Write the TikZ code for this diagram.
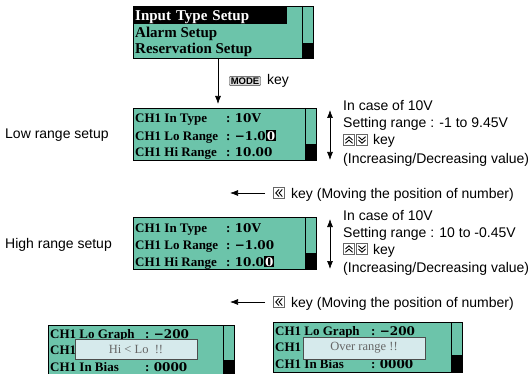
\documentclass[tikz,border=0pt]{standalone}
\usepackage{fontspec}
\setmainfont{Liberation Sans}
\newfontfamily\lcdfont{Liberation Serif}
\newfontfamily\lcdnum{DejaVu Serif}
\usetikzlibrary{positioning,calc,arrows.meta}
\definecolor{lcdgreen}{RGB}{108,196,170}
\definecolor{popfill}{RGB}{214,234,236}
\newcommand{\lcdhl}[1]{{\fboxsep=1pt\colorbox{black}{\textcolor{white}{#1}}}}
\newcommand{\lcdrow}[3]{\makebox[#1][l]{#2}: {\lcdnum\bfseries\fontsize{12}{12}\selectfont#3}}

\begin{document}
\begin{tikzpicture}[x=1pt,y=-1pt,
		lcd/.style={draw=black,line width=1.2pt,fill=lcdgreen,anchor=north west,inner sep=0pt},
		lcdtxt/.style={anchor=base west,inner sep=0pt,font=\lcdfont\bfseries\fontsize{13}{13}\selectfont},
		menutxt/.style={lcdtxt,font=\lcdfont\bfseries\fontsize{15}{15}\selectfont},
		popup/.style={draw=black!70,line width=0.5pt,fill=popfill,text=black!60,inner sep=0pt,font=\lcdfont\fontsize{12.5}{12.5}\selectfont},
		lbl/.style={anchor=base west,inner sep=0pt,font=\fontsize{14}{14}\selectfont},
		arr/.style={line width=0.7pt,-{Latex[length=8pt,width=6pt]}},
		darr/.style={line width=0.7pt,{Latex[length=8pt,width=6pt]}-{Latex[length=8pt,width=6pt]}},
		keycap/.style={draw=black!75,fill=black!15,rounded corners=1pt,inner xsep=1.5pt,inner ysep=1.2pt,font=\bfseries\fontsize{9.5}{9.5}\selectfont},
		keyicon/.pic={
			\draw[black!60,line width=0.5pt,fill=white] (-5.5,-5.5) rectangle (5.5,5.5);
			\draw[line width=0.9pt] (-3.5,0) -- (0,-3.3) -- (3.5,0) (-3.5,3.3) -- (0,0) -- (3.5,3.3);
		}]
	\useasboundingbox (0,0) rectangle (529,374);
	\node[lcd,minimum width=180pt,minimum height=52pt] (menu) at (133,6) {};
	\node[lcd,minimum width=183pt,minimum height=52pt] (low) at (133,108) {};
	\node[lcd,minimum width=183pt,minimum height=52pt] (high) at (133,217) {};
	\node[lcd,minimum width=186pt,minimum height=49pt] (hilo) at (48,325) {};
	\node[lcd,minimum width=189pt,minimum height=50pt] (over) at (273,322) {};
	\foreach \s/\f in {menu/0.69,low/0.67,high/0.67,hilo/0.69,over/0.65} {
		\draw[line width=1.2pt] ($(\s.north east)+(-12,0)$) -- ($(\s.south east)+(-12,0)$);
		\fill ($(\s.north east)!\f!(\s.south east)+(-12,0)$) rectangle (\s.south east);
	}
	\node[menutxt,fill=black,text=white,inner xsep=1pt,text height=14pt,text depth=3pt,text width=151pt] (sel) at (134,21) {Input Type Setup};
	\node[menutxt] (alarm) at (135,37.5) {Alarm Setup};
	\node[menutxt] (resv) at (135,54) {Reservation Setup};
	\node[lcdtxt] (lotype) at (135,123) {\lcdrow{91pt}{CH1 In Type}{10V}};
	\node[lcdtxt] (lolo) at (135,140) {\lcdrow{91pt}{CH1 Lo Range}{−1.0\lcdhl{0}}};
	\node[lcdtxt] (lohi) at (135,157) {\lcdrow{91pt}{CH1 Hi Range}{10.00}};
	\node[lcdtxt] (hitype) at (135,232) {\lcdrow{91pt}{CH1 In Type}{10V}};
	\node[lcdtxt] (hilo1) at (135,249) {\lcdrow{91pt}{CH1 Lo Range}{−1.00}};
	\node[lcdtxt] (hihi) at (135,266) {\lcdrow{91pt}{CH1 Hi Range}{10.0\lcdhl{0}}};
	\node[lcdtxt] (hlgraph) at (50,338) {\lcdrow{95pt}{CH1 Lo Graph}{−200}};
	\node[lcdtxt] (hlch) at (50,354) {CH1};
	\node[lcdtxt] (hlbias) at (50,371) {\lcdrow{95pt}{CH1 In Bias}{0000}};
	\node[lcdtxt] (ovgraph) at (275,335) {\lcdrow{96pt}{CH1 Lo Graph}{−200}};
	\node[lcdtxt] (ovch) at (275,351) {CH1};
	\node[lcdtxt] (ovbias) at (275,368) {\lcdrow{96pt}{CH1 In Bias}{0000}};
	\node[popup,minimum width=122pt,minimum height=20pt] (msg1) at (136,349) {Hi < Lo\ \ !!};
	\node[popup,minimum width=122pt,minimum height=22pt] (msg2) at (364,348) {Over range !!};
	\node[lbl] (lowlbl) at (5,139) {Low range setup};
	\node[lbl] (highlbl) at (5,248) {High range setup};
	\coordinate (mx) at (218,0);
	\draw[arr,shorten >=4pt] (menu.south -| mx) -- (low.north -| mx);
	\node[keycap] (mode) at (245,81) {MODE};
	\node[lbl,right=6pt of mode] (modekey) {key};
	\coordinate (u1) at (330,110);
	\coordinate (d1) at (330,160);
	\draw[darr] (u1) -- (d1);
	\node[lbl] (case1) at (343,111) {In case of 10V};
	\node[lbl] (rng1) at (343,128) {Setting range : -1 to 9.45V};
	\pic (up1) at (349,140) {keyicon};
	\pic[rotate=180] (dn1) at (362,140) {keyicon};
	\node[lbl] (key1) at (373,145) {key};
	\node[lbl] (inc1) at (343,163) {(Increasing/Decreasing value)};
	\coordinate (t1) at (265,193);
	\coordinate (h1) at (230,193);
	\draw[arr] (t1) -- (h1);
	\pic[rotate=90] (lf1) at (279,193) {keyicon};
	\node[lbl] (mv1) at (291,198) {key (Moving the position of number)};
	\coordinate (u2) at (330,219);
	\coordinate (d2) at (330,269);
	\draw[darr] (u2) -- (d2);
	\node[lbl] (case2) at (343,220) {In case of 10V};
	\node[lbl] (rng2) at (343,237) {Setting range : 10 to -0.45V};
	\pic (up2) at (349,249) {keyicon};
	\pic[rotate=180] (dn2) at (362,249) {keyicon};
	\node[lbl] (key2) at (373,254) {key};
	\node[lbl] (inc2) at (343,272) {(Increasing/Decreasing value)};
	\coordinate (t2) at (265,302);
	\coordinate (h2) at (230,302);
	\draw[arr] (t2) -- (h2);
	\pic[rotate=90] (lf2) at (279,302) {keyicon};
	\node[lbl] (mv2) at (291,307) {key (Moving the position of number)};
\end{tikzpicture}
\end{document}
